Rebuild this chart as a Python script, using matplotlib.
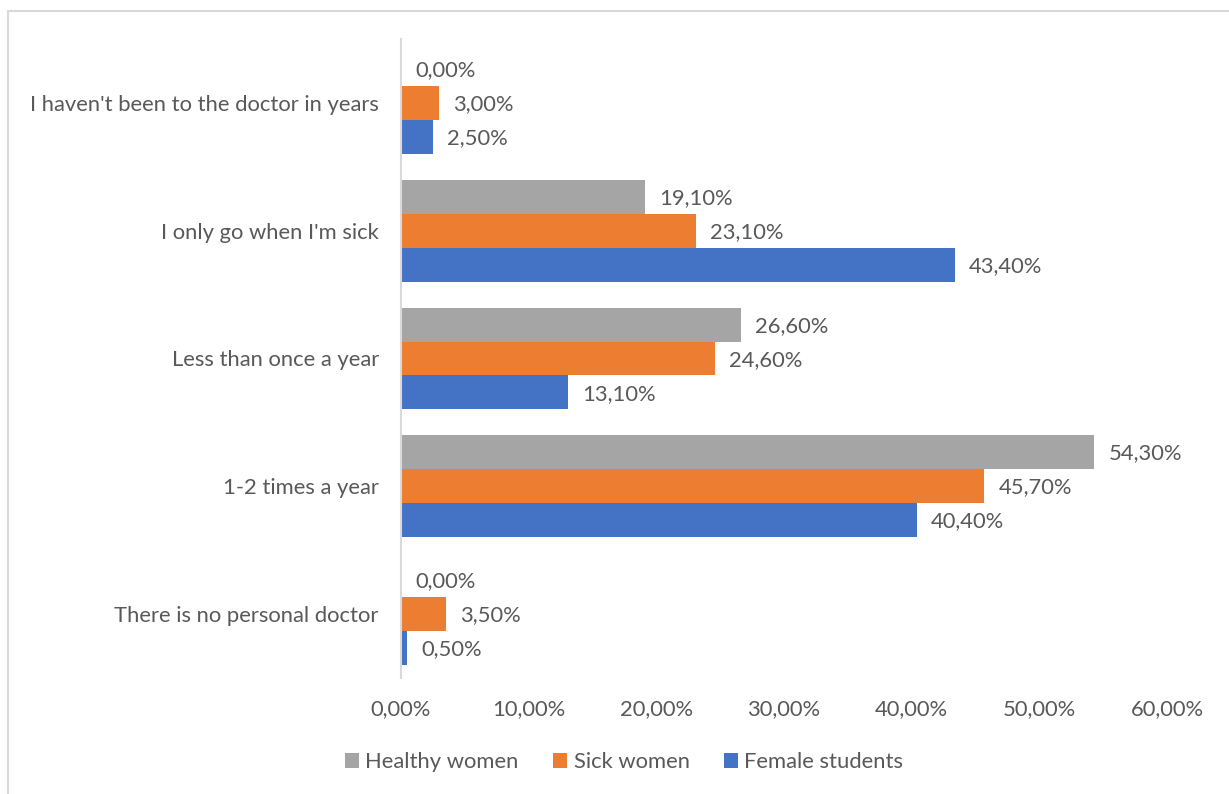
import numpy as np
from matplotlib import pyplot as plt
from matplotlib.patches import Rectangle

categories = [
    "I haven't been to the doctor in years",
    "I only go when I'm sick",
    "Less than once a year",
    "1-2 times a year",
    "There is no personal doctor",
]
healthy_women = [0.0, 19.1, 26.6, 54.3, 0.0]
sick_women = [3.0, 23.1, 24.6, 45.7, 3.5]
female_students = [2.5, 43.4, 13.1, 40.4, 0.5]
x_ticks = [0, 10, 20, 30, 40, 50, 60]

series = [
    ("Healthy women", healthy_women, "#A5A5A5"),
    ("Sick women", sick_women, "#ED7D31"),
    ("Female students", female_students, "#4472C4"),
]
text_color = "#595959"
font = "Lato"
fs = 15.8


def pct(v):
    return f"{v:.2f}%".replace(".", ",")


def main():
    fig = plt.figure(figsize=(12.29, 7.94), dpi=100)
    ax = fig.add_axes([401 / 1229, 1 - 678 / 794, 766 / 1229, 639 / 794])

    # outer chart frame, cut by the right and bottom edges
    fig.patches.append(Rectangle((7.5 / 1229, -0.1), 1.2, 1 - 10.5 / 794 + 0.1,
                                 transform=fig.transFigure, fill=False,
                                 edgecolor="#D9D9D9", linewidth=1.5))

    n = len(categories)
    pos = np.arange(n)
    h = 0.266
    for i, (label, values, color) in enumerate(series):
        y = pos + (i - 1) * h
        ax.barh(y, values, height=h, color=color, label=label)
        for yy, v in zip(y, values):
            ax.text(v + 1.1, yy + 0.01, pct(v), va="center", ha="left",
                    fontsize=fs, color=text_color, family=font)

    ax.set_ylim(n - 0.5, -0.5)
    ax.set_xlim(0, 60)
    ax.set_yticks(pos)
    ax.set_yticklabels(categories, fontsize=fs, color=text_color, family=font)
    ax.set_xticks(x_ticks)
    ax.set_xticklabels([pct(t) for t in x_ticks], fontsize=fs,
                       color=text_color, family=font)
    ax.tick_params(length=0)
    ax.tick_params(axis="y", pad=16)
    ax.tick_params(axis="x", pad=15)
    for side in ["top", "right", "bottom"]:
        ax.spines[side].set_visible(False)
    ax.spines["left"].set_color("#D9D9D9")
    ax.spines["left"].set_linewidth(1.5)

    fig.legend(loc="center", bbox_to_anchor=(624 / 1229, 1 - 762 / 794),
               ncol=3, frameon=False, handlelength=0.65, handleheight=0.65,
               handletextpad=0.3, columnspacing=1.55,
               prop={"family": font, "size": fs}, labelcolor=text_color)

    fig.savefig("out.png", dpi=100)


if __name__ == '__main__':
    main()
